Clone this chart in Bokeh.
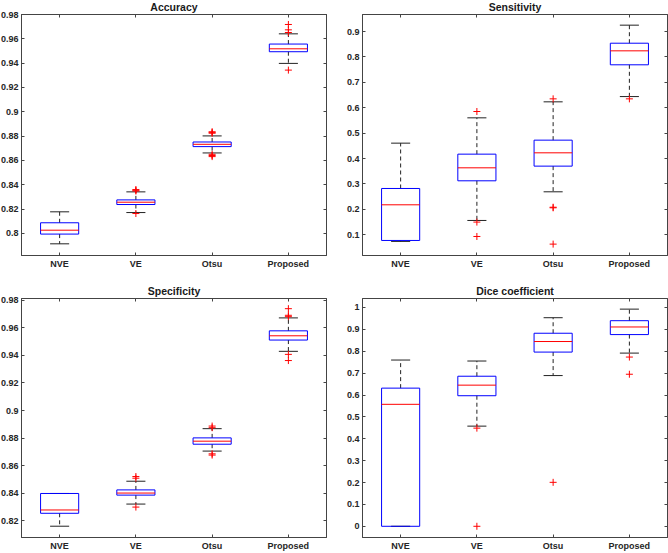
from bokeh.plotting import figure
from bokeh.layouts import column, row
from bokeh.models import (ColumnDataSource, FactorRange, Range1d, FixedTicker,
                          LinearAxis, CategoricalAxis)
from bokeh.transform import dodge
from bokeh.embed import file_html
from bokeh.resources import INLINE

categories = ["NVE", "VE", "Otsu", "Proposed"]

# ---- Accuracy ----
acc_wlo = [0.7915, 0.8172, 0.8662, 0.9398]
acc_q1 = [0.7995, 0.8238, 0.8714, 0.9494]
acc_med = [0.8027, 0.8257, 0.8733, 0.9518]
acc_q3 = [0.8088, 0.8276, 0.8752, 0.9557]
acc_whi = [0.8178, 0.8342, 0.8802, 0.9641]
acc_out = {"NVE": [], "VE": [0.8361, 0.8355, 0.8349, 0.8164],
           "Otsu": [0.8831, 0.8824, 0.8836, 0.8651, 0.8641, 0.8632],
           "Proposed": [0.9718, 0.9674, 0.9652, 0.9343]}
acc_ticks = [0.8, 0.82, 0.84, 0.86, 0.88, 0.9, 0.92, 0.94, 0.96, 0.98]

# ---- Sensitivity ----
sen_wlo = [0.074, 0.1564, 0.2692, 0.644]
sen_q1 = [0.0777, 0.3125, 0.3702, 0.769]
sen_med = [0.218, 0.3636, 0.4226, 0.824]
sen_q3 = [0.2823, 0.4174, 0.4725, 0.854]
sen_whi = [0.4607, 0.5603, 0.6233, 0.925]
sen_out = {"NVE": [], "VE": [0.5852, 0.15, 0.0934],
           "Otsu": [0.635, 0.2062, 0.2085, 0.0633],
           "Proposed": [0.635]}
sen_ticks = [0.1, 0.2, 0.3, 0.4, 0.5, 0.6, 0.7, 0.8, 0.9]

# ---- Specificity ----
spe_wlo = [0.8159, 0.832, 0.8705, 0.943]
spe_q1 = [0.8253, 0.8385, 0.8755, 0.9512]
spe_med = [0.8277, 0.84, 0.8777, 0.9543]
spe_q3 = [0.8397, 0.8423, 0.8801, 0.9579]
spe_whi = [0.8397, 0.8486, 0.8868, 0.9673]
spe_out = {"NVE": [], "VE": [0.852, 0.8508, 0.8298],
           "Otsu": [0.8887, 0.8875, 0.8685, 0.8676],
           "Proposed": [0.974, 0.9692, 0.9682, 0.9408, 0.9363]}
spe_ticks = [0.82, 0.84, 0.86, 0.88, 0.9, 0.92, 0.94, 0.96, 0.98]

# ---- Dice coefficient ----
dic_wlo = [0.0, 0.4577, 0.6888, 0.7915]
dic_q1 = [0.0, 0.5967, 0.7961, 0.8761]
dic_med = [0.5574, 0.645, 0.8444, 0.9109]
dic_q3 = [0.6314, 0.6858, 0.8822, 0.9396]
dic_whi = [0.7598, 0.7553, 0.9532, 0.9924]
dic_out = {"NVE": [], "VE": [0.4486, 0.0], "Otsu": [0.2009],
           "Proposed": [0.7734, 0.6949]}
dic_ticks = [0, 0.1, 0.2, 0.3, 0.4, 0.5, 0.6, 0.7, 0.8, 0.9, 1]

AX = "#444444"
TXT = "#262626"
FONT = "Liberation Sans"


def panel(title, wlo, q1, med, q3, whi, outs, ticks, yr, w, h, bl, br, bb):
    p = figure(x_range=FactorRange(factors=categories, range_padding=0),
               y_range=Range1d(*yr), width=w, height=h,
               output_backend="svg", toolbar_location=None, tools="",
               min_border_left=bl, min_border_right=br, min_border_top=22,
               min_border_bottom=bb, title=title)
    p.title.align = "center"
    p.title.text_font = FONT
    p.title.text_font_size = "10.5px"
    p.title.text_font_style = "bold"
    p.title.text_color = "#1a1a1a"
    p.title.standoff = 3
    p.grid.visible = False
    p.outline_line_color = AX
    p.background_fill_color = "white"
    p.border_fill_color = "white"

    src = ColumnDataSource(dict(cat=categories, wlo=wlo, q1=q1, med=med, q3=q3, whi=whi))
    # whiskers
    p.segment(x0="cat", y0="q3", x1="cat", y1="whi", source=src,
              line_color="#222222", line_dash="4 3", line_width=1)
    p.segment(x0="cat", y0="q1", x1="cat", y1="wlo", source=src,
              line_color="#222222", line_dash="4 3", line_width=1)
    # caps
    for col in ("wlo", "whi"):
        p.segment(x0=dodge("cat", -0.125, range=p.x_range), y0=col,
                  x1=dodge("cat", 0.125, range=p.x_range), y1=col, source=src,
                  line_color="#222222", line_width=1)
    # boxes
    p.vbar(x="cat", top="q3", bottom="q1", width=0.5, source=src,
           fill_color=None, line_color="#0000ff", line_width=1)
    # medians
    p.segment(x0=dodge("cat", -0.25, range=p.x_range), y0="med",
              x1=dodge("cat", 0.25, range=p.x_range), y1="med", source=src,
              line_color="#ff0000", line_width=1)
    # outliers
    ox, oy = [], []
    for c in categories:
        for v in outs[c]:
            ox.append(c)
            oy.append(v)
    p.scatter(x=ox, y=oy, marker="cross", size=7, line_color="#ff0000", line_width=1)

    labels = {t: f"{t:g}" for t in ticks}
    for ax in p.yaxis:
        ax.ticker = FixedTicker(ticks=ticks)
        ax.major_label_overrides = labels
    p.add_layout(LinearAxis(ticker=FixedTicker(ticks=ticks)), "right")
    p.add_layout(CategoricalAxis(), "above")

    for ax in p.axis:
        ax.axis_line_color = AX
        ax.major_tick_line_color = AX
        ax.major_tick_in = 3
        ax.major_tick_out = 0
        ax.minor_tick_line_color = None
        ax.major_label_text_font = FONT
        ax.major_label_text_font_size = "9px"
        ax.major_label_text_font_style = "bold"
        ax.major_label_text_color = TXT
        ax.major_label_standoff = 3
    for ax in p.right + p.above:
        ax.major_label_text_font_size = "1px"
        ax.major_label_text_color = None
        ax.major_label_standoff = 0
    return p


p1 = panel("Accuracy", acc_wlo, acc_q1, acc_med, acc_q3, acc_whi, acc_out,
           acc_ticks, (0.7819, 0.98), 339, 284, 26, 8, 21)
p2 = panel("Sensitivity", sen_wlo, sen_q1, sen_med, sen_q3, sen_whi, sen_out,
           sen_ticks, (0.0185, 0.967), 334, 284, 28, 1, 21)
p3 = panel("Specificity", spe_wlo, spe_q1, spe_med, spe_q3, spe_whi, spe_out,
           spe_ticks, (0.8077, 0.9814), 339, 277, 26, 8, 14)
p4 = panel("Dice coefficient", dic_wlo, dic_q1, dic_med, dic_q3, dic_whi, dic_out,
           dic_ticks, (-0.0512, 1.041), 334, 277, 28, 1, 14)

layout = column(row(p1, p2, spacing=0), row(p3, p4, spacing=0), spacing=0,
                margin=(-8, 0, 0, -5))

open("out.html", "w").write(file_html(layout, INLINE))
